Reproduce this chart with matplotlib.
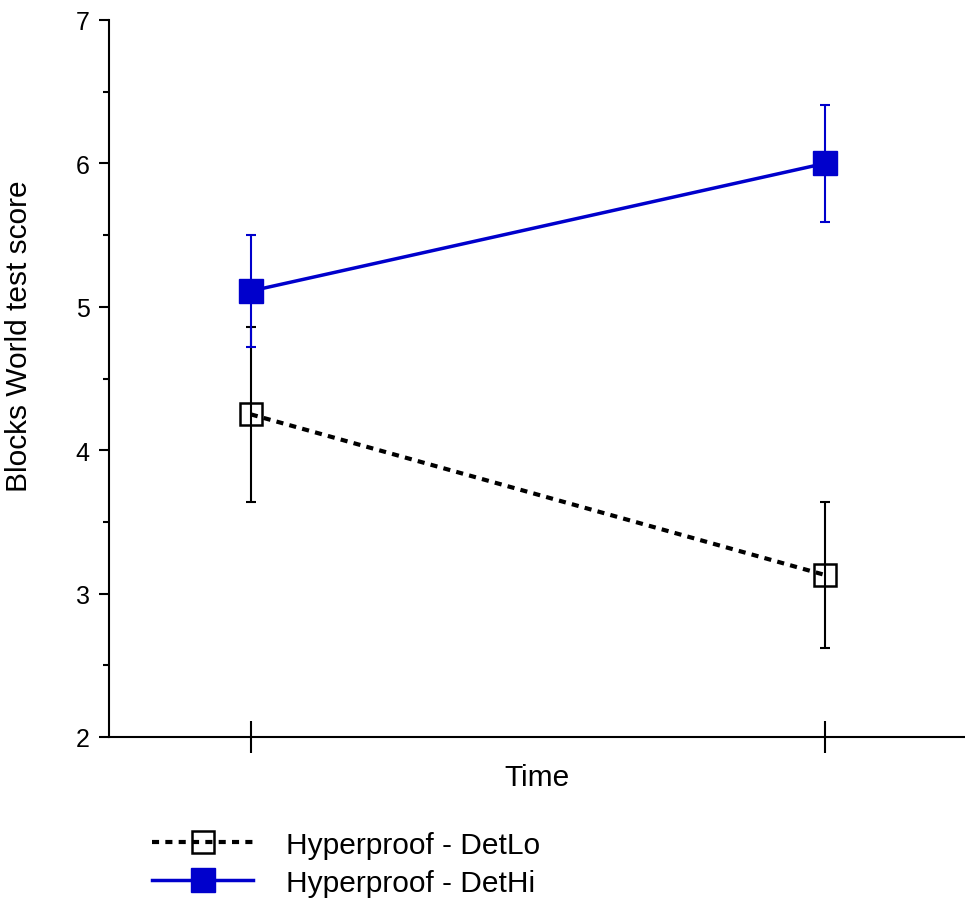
import matplotlib.pyplot as plt
from matplotlib.ticker import MultipleLocator

plt.rcParams['font.family'] = ['Liberation Sans', 'DejaVu Sans']

times = [1, 2]
lo_mean = [4.25, 3.13]
lo_err = [0.61, 0.51]
hi_mean = [5.11, 6.00]
hi_err = [0.39, 0.41]
labels = ["Hyperproof - DetLo", "Hyperproof - DetHi"]

fig = plt.figure(figsize=(9.65, 9.03), dpi=100)
ax = fig.add_axes([109 / 965, 165 / 903, 856 / 965, 717 / 903])

# error bars first, lines and markers on top
ax.errorbar(times, lo_mean, yerr=lo_err, fmt='none', ecolor='black',
            elinewidth=1.5, capsize=3.6, capthick=1.5, zorder=2)
ax.errorbar(times, hi_mean, yerr=hi_err, fmt='none', ecolor='#0000cc',
            elinewidth=1.5, capsize=3.6, capthick=1.5, zorder=3)
l1, = ax.plot(times, lo_mean, color='black', linestyle=(0, (1.7, 1.5)), linewidth=3,
              marker='s', markersize=15.5, markerfacecolor='none',
              markeredgecolor='black', markeredgewidth=1.8, zorder=4)
l2, = ax.plot(times, hi_mean, color='#0000cc', linewidth=2.5,
              marker='s', markersize=17.5, markerfacecolor='#0000cc',
              markeredgecolor='#0000cc', zorder=5)

ax.set_xlim(0.753, 2.244)
ax.set_ylim(2, 7)
ax.set_xticks(times)
ax.set_xticklabels([])
ax.yaxis.set_major_locator(MultipleLocator(1))
ax.yaxis.set_minor_locator(MultipleLocator(0.5))

for s in ['top', 'right']:
    ax.spines[s].set_visible(False)
ax.spines['left'].set_linewidth(1.5)
ax.spines['bottom'].set_linewidth(1.5)

ax.tick_params(axis='y', which='major', direction='out', length=7, width=1.5,
               labelsize=18, pad=7)
ax.tick_params(axis='y', which='minor', direction='out', length=4, width=1.5)
ax.tick_params(axis='x', which='major', direction='inout', length=23, width=1.5)

ax.set_xlabel("Time", fontsize=21.5, labelpad=4)
ax.set_ylabel("Blocks World test score", fontsize=21.5)
ax.yaxis.set_label_coords(-0.089, 0.56)

fig.legend([l1, l2], labels, loc='upper left', bbox_to_anchor=(140 / 965, 1 - 820 / 903),
           frameon=False, fontsize=21.5, handlelength=3.4, handletextpad=1.1,
           labelspacing=0.33, borderaxespad=0)

fig.savefig("out.png", dpi=100)
